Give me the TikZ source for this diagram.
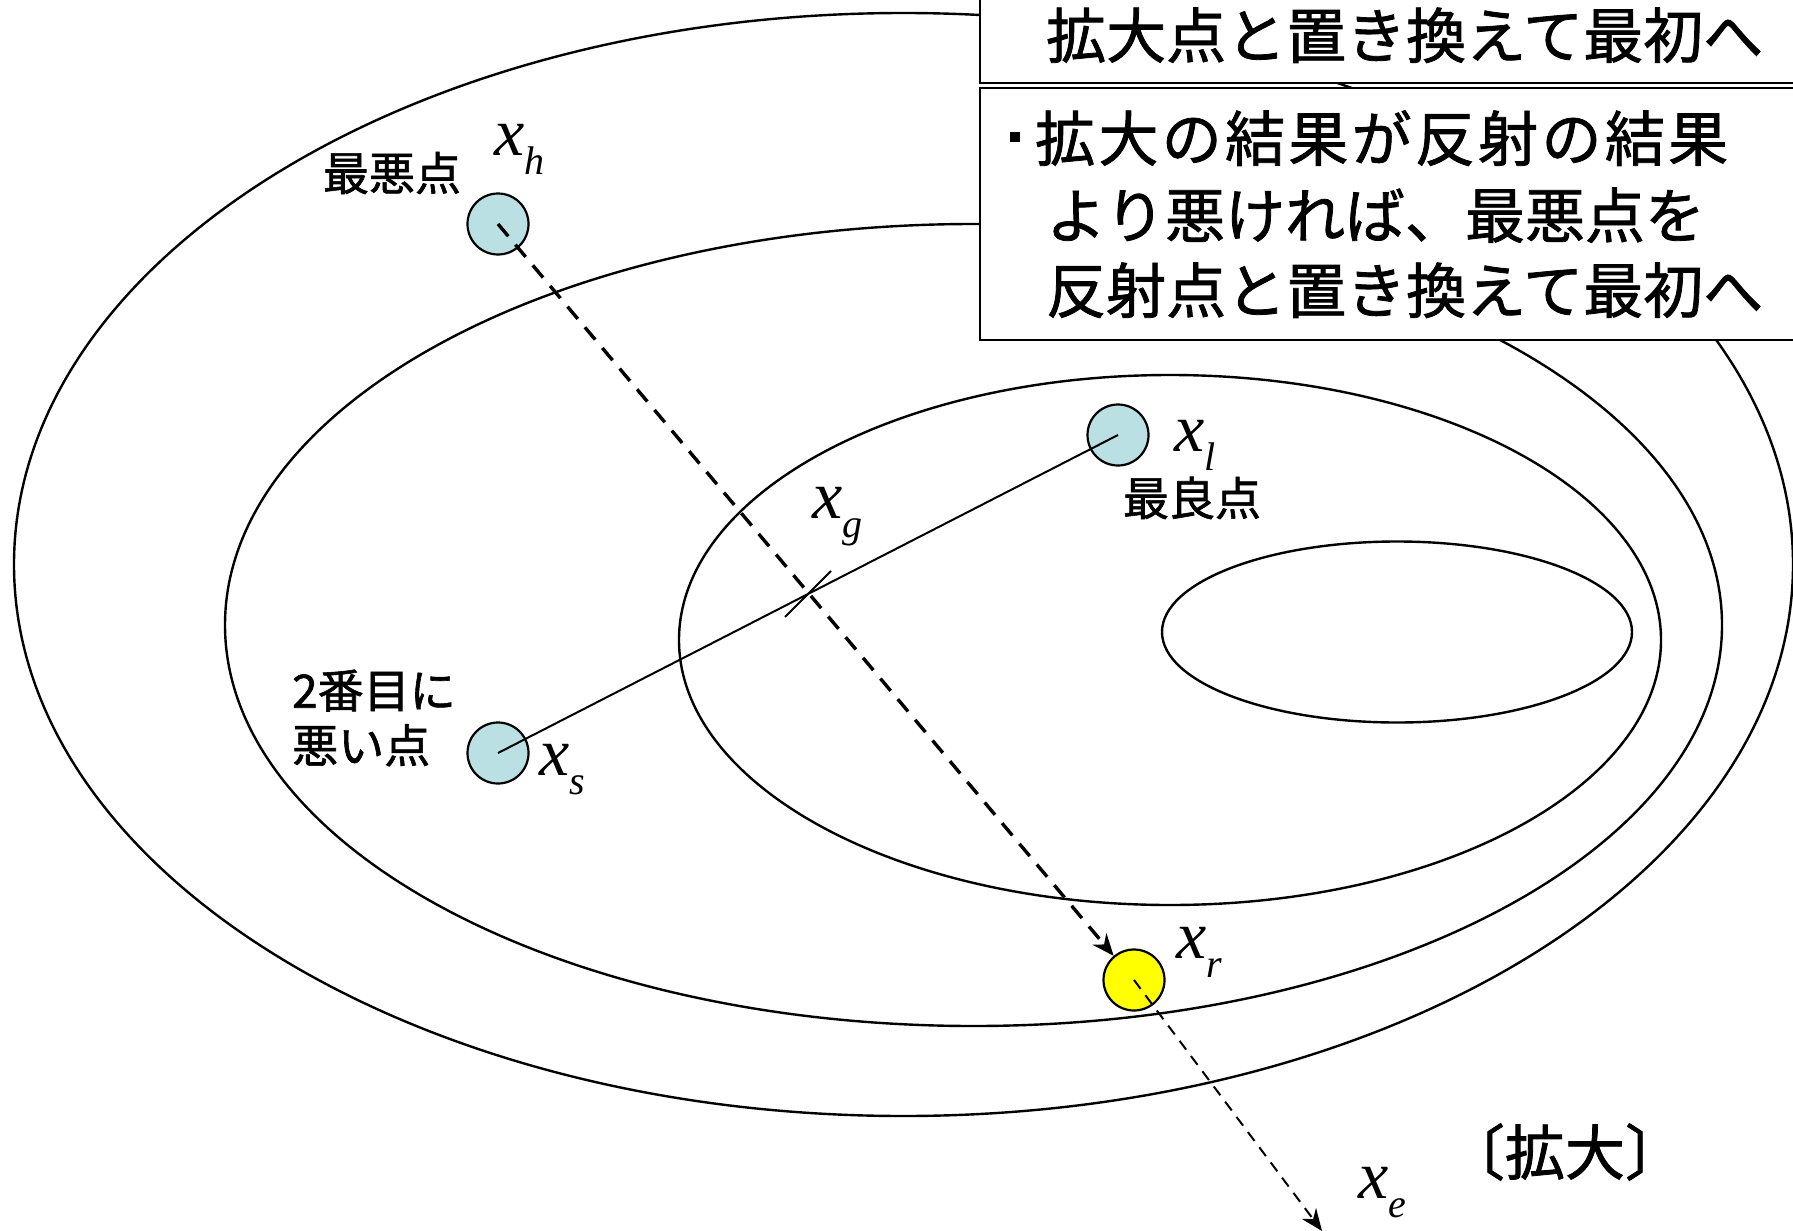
\documentclass[tikz,border=0pt]{standalone}
\usepackage{fontspec}
\setmainfont{Liberation Serif}
\newfontfamily\jp[UprightFeatures={FakeBold=1.3}]{Noto Sans CJK JP}
\usetikzlibrary{arrows.meta}
\definecolor{ptblue}{RGB}{187,224,227}
\definecolor{ptyellow}{RGB}{255,255,0}
\newcommand\xsub[1]{\fontsize{68}{68}\selectfont\itshape x\raisebox{-19pt}{\fontsize{40}{40}\selectfont #1}}
\begin{document}
\begin{tikzpicture}[x=1pt,y=-1pt,
  contour/.style={line width=2.4pt},
  ptnode/.style={circle,draw,line width=2.2pt,minimum size=61pt,inner sep=0pt},
  jlab/.style={font=\jp\fontsize{46}{55}\selectfont,inner sep=0pt},
  xlab/.style={anchor=base west,inner sep=0pt},
  boxline/.style={line width=2.6pt,fill=white},
  boxtext/.style={font=\jp\fontsize{60}{76}\selectfont,anchor=base west,inner sep=0pt},
  thickdash/.style={line width=3.4pt,dash pattern=on 16pt off 11pt},
  thindash/.style={line width=2pt,dash pattern=on 11pt off 8pt},
  tip/.style={-{Stealth[length=22pt,width=18pt]}}]
\clip (0,0) rectangle (1793,1231);
\fill[white] (0,0) rectangle (1793,1231);
% contours
\draw[contour] (903.5,564.5) ellipse [x radius=889.5pt, y radius=551.5pt];
\draw[contour] (973.5,625) ellipse [x radius=748.5pt, y radius=401pt];
\draw[contour] (1170,640) ellipse [x radius=491pt, y radius=265pt];
\draw[contour] (1397,632) ellipse [x radius=235pt, y radius=90.5pt];
% points
\node[ptnode,fill=ptblue] (h) at (498,224) {};
\node[ptnode,fill=ptblue] (s) at (498,753) {};
\node[ptnode,fill=ptblue] (l) at (1118,435) {};
\node[ptnode,fill=ptyellow] (r) at (1134,980) {};
\coordinate (g) at (808,594);
\coordinate (e) at (1322,1231);
% connectors
\draw[thickdash,tip] (h.center) -- (r);
\draw[thindash,tip] (r.center) -- (e);
\draw[line width=2pt] (s.center) -- (l.center);
\draw[line width=1.8pt] (g) ++(-23,23) -- ++(46,-46);
% labels
\node[jlab] (worst) at (392,173) {最悪点};
\node[jlab] (best) at (1192,498) {最良点};
\node[jlab,align=left,anchor=west] (second) at (292,718) {2番目に\\悪い点};
\node[xlab] (lh) at (494,155) {\xsub{h}};
\node[xlab] (ll) at (1174,451) {\xsub{l}};
\node[xlab] (lg) at (812,518) {\xsub{g}};
\node[xlab] (ls) at (539,775) {\xsub{s}};
\node[xlab] (lr) at (1176,958) {\xsub{r}};
\node[xlab] (le) at (1358,1198) {\xsub{e}};
\node[font=\jp\fontsize{60}{60}\selectfont,inner sep=0pt] (kakudai) at (1565,1152) {〔拡大〕};
% boxes
\draw[boxline] (980,-10) rectangle (1810,83);
\draw[boxline] (980,88) rectangle (1810,340);
\node[boxtext] (t0) at (1046,58) {拡大点と置き換えて最初へ};
\node[fill=black,minimum size=10pt,inner sep=0pt] (bul) at (1015,137) {};
\node[boxtext] (t1) at (1035,161) {\addfontfeature{LetterSpace=5.5}拡大の結果が反射の結果};
\node[boxtext] (t2) at (1046,238) {より悪ければ、最悪点を};
\node[boxtext] (t3) at (1046,313) {反射点と置き換えて最初へ};
\end{tikzpicture}
\end{document}
